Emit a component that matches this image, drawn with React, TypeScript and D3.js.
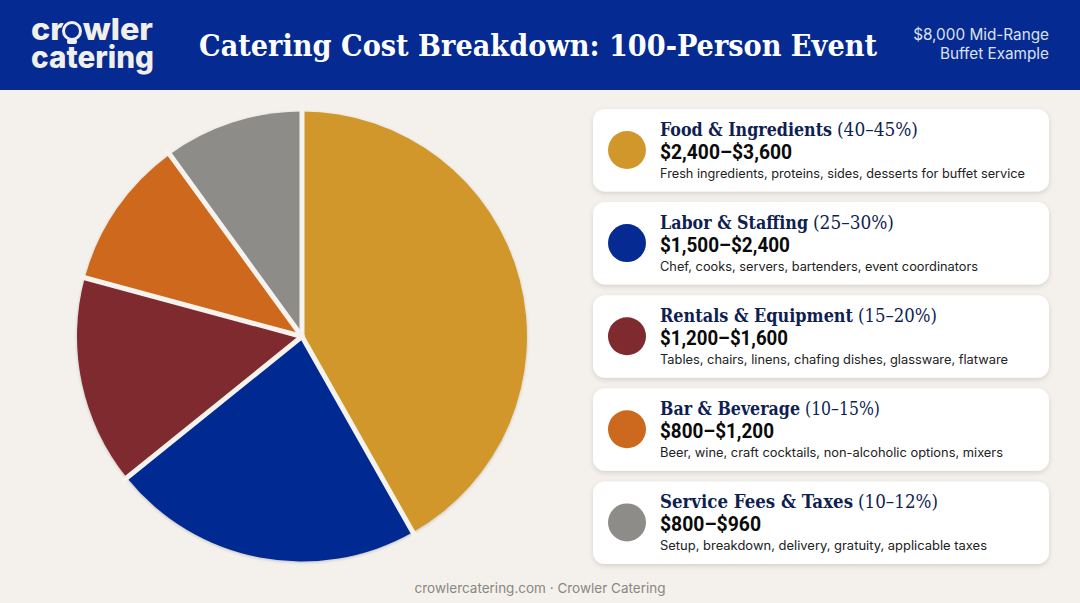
import * as d3 from "d3"

const categories = ["Food & Ingredients", "Labor & Staffing", "Rentals & Equipment", "Bar & Beverage", "Service Fees & Taxes"]
const shares = [41.8, 22.4, 15, 10.8, 10]
const percentLabels = ["(40–45%)", "(25–30%)", "(15–20%)", "(10–15%)", "(10–12%)"]
const costRanges = ["$2,400–$3,600", "$1,500–$2,400", "$1,200–$1,600", "$800–$1,200", "$800–$960"]
const details = [
  "Fresh ingredients, proteins, sides, desserts for buffet service",
  "Chef, cooks, servers, bartenders, event coordinators",
  "Tables, chairs, linens, chafing dishes, glassware, flatware",
  "Beer, wine, craft cocktails, non-alcoholic options, mixers",
  "Setup, breakdown, delivery, gratuity, applicable taxes",
]
const colors = ["#d2972b", "#052a91", "#7f2a2f", "#cd681f", "#8e8c88"]
const nameWidths = [172, 148, 193, 140, 193]
const pctWidths = [81, 81, 79, 75, 80]
const costWidths = [132, 130, 128, 114, 101]
const detailWidths = [365, 318, 348, 343, 327]

const slab = "'DejaVu Serif Condensed', 'DejaVu Serif', serif"
const sans = "Inter, Lato, sans-serif"
const navy = "#052a91"
const paper = "#f4f1ec"

export default function App() {
  const pie = d3.pie<number>().sort(null)
  const radius = 225
  const arc = d3.arc<d3.PieArcDatum<number>>().innerRadius(0).outerRadius(radius)
  const cardY = d3.scaleBand<number>().domain(d3.range(5)).range([109, 574.5])
  const slices = pie(shares)

  return (
    <svg width={1080} height={603} style={{ position: "absolute", left: 0, top: 0 }}>
      <defs>
        <filter id="cardShadow" x="-5%" y="-15%" width="110%" height="135%">
          <feDropShadow dx="0" dy="2" stdDeviation="2.5" floodColor="#000" floodOpacity="0.13" />
        </filter>
        <filter id="pieShadow" x="-5%" y="-5%" width="110%" height="110%">
          <feDropShadow dx="0" dy="1" stdDeviation="1.5" floodColor="#000" floodOpacity="0.2" />
        </filter>
      </defs>
      <rect width={1080} height={603} fill={paper} />
      <rect width={1080} height={90} fill={navy} />

      {/* logo: the two lines sit tight together as in the reference, the ink does not touch */}
      <g fill="#f1efea" fontFamily="Inter, sans-serif" fontWeight={800} fontSize={30}>
        <text x={31} y={40} textLength={122} lengthAdjust="spacingAndGlyphs">crowler</text>
        <text x={31} y={68} textLength={123} lengthAdjust="spacingAndGlyphs">catering</text>
      </g>
      <circle cx={72} cy={31} r={11} fill={navy} />
      <circle cx={72} cy={31} r={8.5} fill={navy} stroke="#f1efea" strokeWidth={3} />
      <rect x={67} y={39} width={10} height={5} rx={2} fill="#f1efea" />

      <text x={199} y={56} fill="#fff" fontFamily={slab} fontWeight={700} fontSize={30} textLength={678} lengthAdjust="spacingAndGlyphs">
        Catering Cost Breakdown: 100-Person Event
      </text>
      <g fill="#dde1ee" fontFamily={sans} fontSize={15.3} textAnchor="end">
        <text x={1049} y={40}>$8,000 Mid-Range</text>
        <text x={1049} y={59}>Buffet Example</text>
      </g>

      <g transform="translate(302,336.5)">
        <g filter="url(#pieShadow)">
          {slices.map((d, i) => (
            <path key={i} d={arc(d) ?? undefined} fill={colors[i]} />
          ))}
        </g>
        {slices.map((d, i) => {
          const [x, y] = d3.pointRadial(d.startAngle, radius + 4)
          return <line key={i} x1={0} y1={0} x2={x} y2={y} stroke="#f6f3ee" strokeWidth={5} strokeLinecap="round" />
        })}
      </g>

      {categories.map((name, i) => {
        const y = cardY(i) as number
        const nameEnd = 660 + nameWidths[i]
        return (
          <g key={name}>
            <rect x={593} y={y} width={456} height={82.5} rx={12} fill="#fff" filter="url(#cardShadow)" />
            <circle cx={627} cy={y + 41} r={19} fill={colors[i]} />
            <text x={660} y={y + 27} fill="#0f1f52" fontFamily={slab} fontWeight={700} fontSize={19} textLength={nameWidths[i]} lengthAdjust="spacingAndGlyphs">{name}</text>
            <text x={nameEnd + 5} y={y + 27} fill="#0f1f52" fontFamily={slab} fontSize={18.5} textLength={pctWidths[i]} lengthAdjust="spacingAndGlyphs">{percentLabels[i]}</text>
            <text x={660} y={y + 50} fill="#0a0a0a" fontFamily={"Roboto, sans-serif"} fontWeight={700} fontSize={20} textLength={costWidths[i]} lengthAdjust="spacingAndGlyphs">{costRanges[i]}</text>
            <text x={660} y={y + 68.5} fill="#222" fontFamily={sans} fontSize={12.5} textLength={detailWidths[i]} lengthAdjust="spacingAndGlyphs">{details[i]}</text>
          </g>
        )
      })}

      <text x={540} y={593} textAnchor="middle" fill="#8a8781" fontFamily={sans} fontSize={13.5}>crowlercatering.com · Crowler Catering</text>
    </svg>
  )
}
